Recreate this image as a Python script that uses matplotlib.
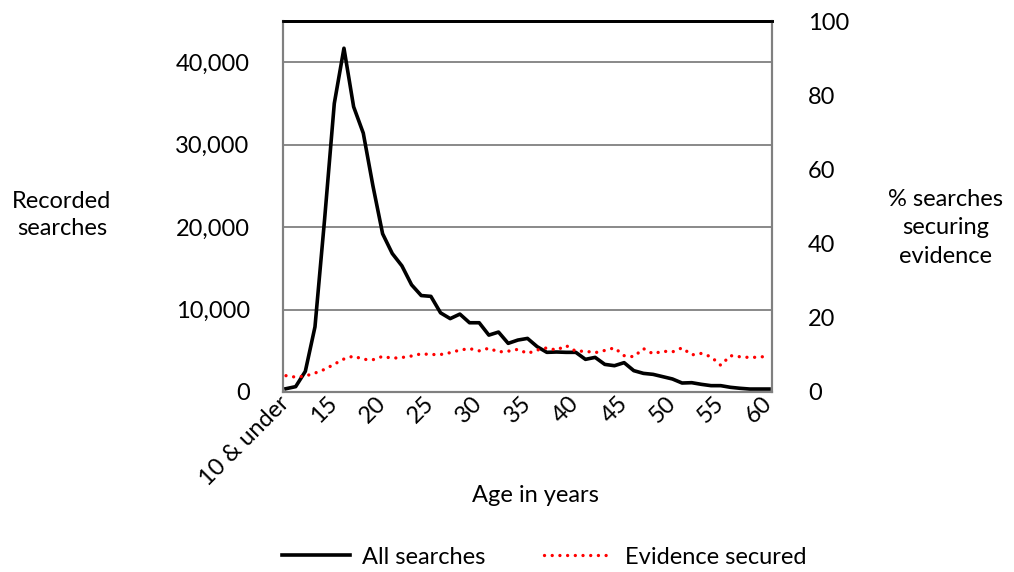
import numpy as np
import matplotlib
matplotlib.use("Agg")
import matplotlib.pyplot as plt

plt.rcParams['font.family'] = ['Lato', 'DejaVu Sans']

# data
ages = np.arange(10, 61)
searches = [400, 650, 2500, 7900, 21000, 35000, 41700, 34600, 31400, 25000,
            19200, 16800, 15300, 13000, 11700, 11600, 9600, 8900, 9450, 8400,
            8400, 6900, 7270, 5900, 6300, 6500, 5500, 4810, 4850, 4810,
            4810, 3960, 4200, 3350, 3190, 3560, 2590, 2260, 2140, 1860,
            1580, 1090, 1130, 930, 770, 770, 570, 450, 360, 360, 360]
evidence = [4.4, 4.0, 4.3, 5.1, 6.1, 7.5, 8.9, 9.7, 8.8, 8.7,
            9.6, 9.1, 9.3, 9.7, 10.3, 10.1, 10.1, 10.6, 11.3, 11.7,
            11.1, 11.8, 10.8, 11.0, 11.5, 10.4, 11.3, 11.9, 11.3, 12.5,
            11.0, 11.0, 10.6, 11.2, 11.9, 9.8, 9.5, 11.7, 10.3, 11.0,
            10.8, 11.9, 10.0, 10.4, 9.5, 7.2, 9.8, 9.5, 9.3, 9.4, 9.7]
xticks = [10, 15, 20, 25, 30, 35, 40, 45, 50, 55, 60]
xticklabels = ['10 & under', '15', '20', '25', '30', '35', '40', '45', '50', '55', '60']
left_ticks = [0, 10000, 20000, 30000, 40000]
right_ticks = [0, 20, 40, 60, 80, 100]

fs = 17
fig = plt.figure(figsize=(10.14, 5.72), dpi=100)
ax = fig.add_axes([283/1014, 1 - 392/572, (772 - 283)/1014, (392 - 21)/572])
ax2 = ax.twinx()

ax.plot(ages, searches, color='black', lw=2.6, solid_joinstyle='round', zorder=3)
ax2.plot(ages, evidence, color='red', lw=2.4, dashes=(0.01, 2.3),
         dash_capstyle='round')

ax.set_xlim(9.69, 60.31)
ax.set_ylim(0, 45000)
ax2.set_ylim(0, 100)

ax.set_yticks(left_ticks)
ax.set_yticklabels([f'{v:,}' for v in left_ticks])
ax2.set_yticks(right_ticks)
ax.set_xticks(xticks)
ax.set_xticklabels(xticklabels, rotation=45, ha='right', va='center',
                   rotation_mode='anchor')
ax.grid(axis='y', color='#808080', lw=1.3)
ax.set_axisbelow(True)

ax.tick_params(axis='y', length=0, pad=24, labelsize=fs)
ax.tick_params(axis='x', length=0, pad=6, labelsize=fs)
ax2.tick_params(axis='y', length=0, pad=26, labelsize=fs)

for a in (ax, ax2):
    for side in ('left', 'right', 'bottom'):
        a.spines[side].set_color('#808080')
        a.spines[side].set_linewidth(1.5)
    a.spines['top'].set_color('black')
    a.spines['top'].set_linewidth(2)

fig.text(535/1014, 1 - 495/572, 'Age in years', fontsize=fs,
         ha='center', va='center')
fig.text(62/1014, 1 - 215/572, 'Recorded\nsearches', fontsize=fs,
         ha='center', va='center', linespacing=1.4)
fig.text(946/1014, 1 - 228/572, '% searches\nsecuring\nevidence', fontsize=fs,
         ha='center', va='center', linespacing=1.45)

h1, = ax.plot([], [], color='black', lw=2.6)
h2, = ax.plot([], [], color='red', lw=2.4, dashes=(0.01, 2.3), dash_capstyle='round')
fig.legend([h1, h2], ['All searches', 'Evidence secured'], loc='center',
           bbox_to_anchor=(544/1014, 1 - 557/572), ncol=2, frameon=False,
           fontsize=fs, handlelength=2.9, columnspacing=2.5, handletextpad=0.5)

fig.savefig('out.png', dpi=100)
